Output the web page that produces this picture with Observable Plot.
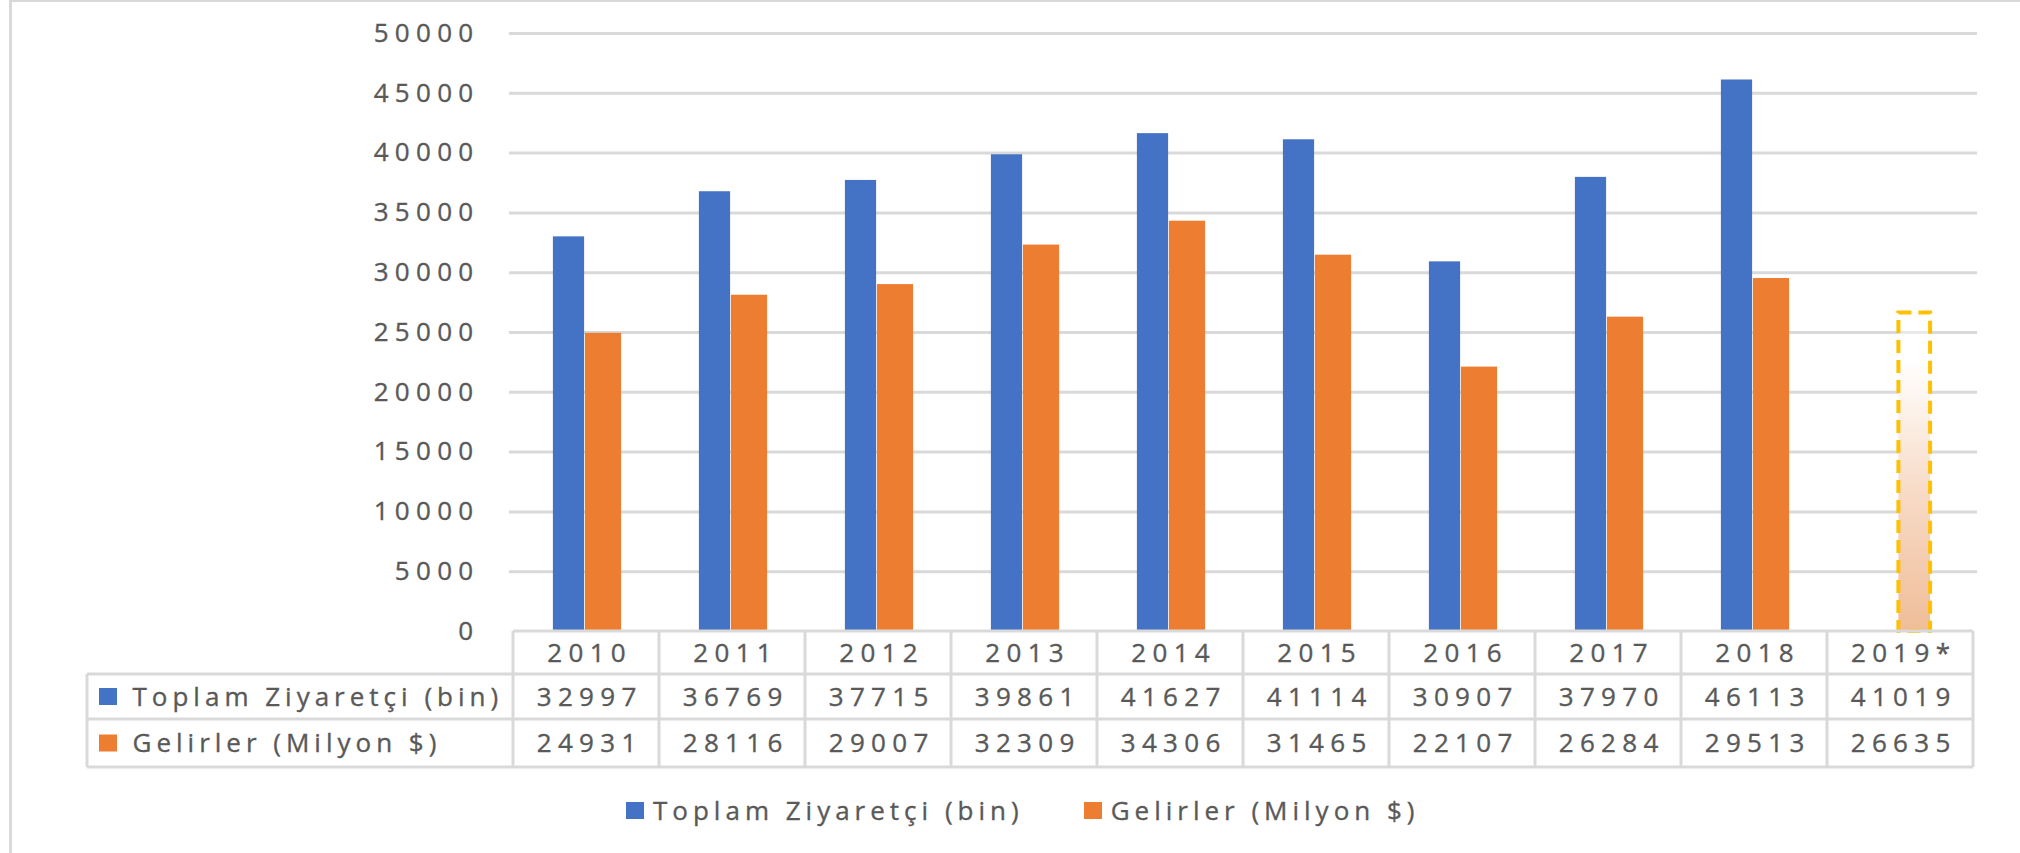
<!DOCTYPE html>
<html><head><meta charset="utf-8">
<script src="https://cdn.jsdelivr.net/npm/d3@7"></script>
<script src="https://cdn.jsdelivr.net/npm/@observablehq/plot@0.6"></script>
<style>
body{margin:0;background:#fff;}
#wrap{position:relative;width:2020px;height:853px;overflow:hidden;background:#fff;font-family:"Open Sans",Lato,sans-serif;color:#595959;}
#frame{position:absolute;left:9px;top:0;width:2030px;height:870px;border-left:3px solid #D9D9D9;border-top:2px solid #D9D9D9;pointer-events:none;}
#chart{position:absolute;left:0;top:0;}
#legend{position:absolute;left:626px;top:790px;height:40px;display:flex;align-items:center;font-size:26px;letter-spacing:5px;white-space:nowrap;-webkit-text-stroke:0.35px #595959;}
#legend .key{width:18px;height:17px;display:inline-block;margin-right:9px;}
#legend .item{display:flex;align-items:center;margin-right:60px;}
</style>
</head><body>
<div id="wrap"><div id="chart"></div><div id="legend"></div><div id="frame"></div></div>
<script>
const years = ["2010","2011","2012","2013","2014","2015","2016","2017","2018","2019*"];
const visitors = [32997,36769,37715,39861,41627,41114,30907,37970,46113,41019];
const revenues = [24931,28116,29007,32309,34306,31465,22107,26284,29513,26635];
const seriesNames = ["Toplam Ziyaretçi (bin)","Gelirler (Milyon $)"];
const seriesColors = ["#4472C4","#ED7D31"];
const yTicks = [0,5000,10000,15000,20000,25000,30000,35000,40000,45000,50000];
const projectedYear = "2019*";

const rows = years.map((year,i)=>({year, visitors:visitors[i], revenues:revenues[i]}));
const actual = rows.filter(d=>d.year!==projectedYear);
const projected = rows.filter(d=>d.year===projectedYear);

const W = 2020, H = 780, mL = 509, mR = 43, mT = 33, mB = 149;
const bw = (W - mL - mR) / years.length;
const half = bw/2;
const txt = "#595959";
const fs = 26, lsNum = 6.3, lsTxt = 5;

const chart = Plot.plot({
  width: W, height: H,
  marginLeft: mL, marginRight: mR, marginTop: mT, marginBottom: mB,
  style: {fontFamily: "'Open Sans', Lato, sans-serif", fontSize: fs + "px", color: txt, background: "transparent", overflow: "visible"},
  x: {domain: years, padding: 0, axis: null},
  y: {domain: [0, 50000], axis: null},
  marks: [
    Plot.ruleY(yTicks.filter(d=>d>0), {y: d=>d, stroke: "#D9D9D9", strokeWidth: 3, strokeOpacity: 1}),
    Plot.axisY({ticks: yTicks, tickSize: 0, tickPadding: 30, tickFormat: d3.format("d"), fill: txt, fontSize: fs, label: null}),
    Plot.barY(actual, {x: "year", y: "visitors", fill: seriesColors[0], insetLeft: half - 33.5, insetRight: half + 1.5}),
    Plot.barY(actual, {x: "year", y: "revenues", fill: seriesColors[1], insetLeft: half - 1.5, insetRight: half - 35.5}),
    Plot.barY(projected, {x: "year", y: "revenues", fill: "url(#grad2019)", stroke: "#FFC000", strokeWidth: 4, strokeDasharray: "13,7", insetLeft: half - 2, insetRight: half - 30.5}),
    Plot.text(years, {x: d=>d, y: 0, dy: 22, dx: lsNum/2, text: d=>d, fill: txt, fontSize: fs, textAnchor: "middle", lineAnchor: "middle"}),
    Plot.text(years, {x: d=>d, y: 0, dy: 66, dx: lsNum/2, text: (d,i)=>String(visitors[i]), fill: txt, fontSize: fs, textAnchor: "middle", lineAnchor: "middle"}),
    Plot.text(years, {x: d=>d, y: 0, dy: 112, dx: lsNum/2, text: (d,i)=>String(revenues[i]), fill: txt, fontSize: fs, textAnchor: "middle", lineAnchor: "middle"}),
    Plot.text([seriesNames[0]], {frameAnchor: "bottom-left", dx: -377, dy: 66, text: d=>d, fill: txt, fontSize: fs, textAnchor: "start", lineAnchor: "middle"}),
    Plot.text([seriesNames[1]], {frameAnchor: "bottom-left", dx: -377, dy: 112, text: d=>d, fill: txt, fontSize: fs, textAnchor: "start", lineAnchor: "middle"})
  ]
});
chart.style.letterSpacing = lsNum + "px";
const svg = d3.select(chart);
svg.selectAll("text").style("stroke", txt).style("stroke-width", "0.35px");
svg.selectAll("text").filter(function(){return /[A-Za-z]/.test(this.textContent);}).style("letter-spacing", lsTxt + "px");
document.getElementById("chart").appendChild(chart);

// gradient for projected bar
const defs = svg.insert("defs", ":first-child");
const grad = defs.append("linearGradient").attr("id","grad2019").attr("x1",0).attr("y1",0).attr("x2",0).attr("y2",1);
grad.append("stop").attr("offset","0%").attr("stop-color","#ffffff").attr("stop-opacity",0);
grad.append("stop").attr("offset","15%").attr("stop-color","#ffffff").attr("stop-opacity",1);
grad.append("stop").attr("offset","55%").attr("stop-color","#F8DCC9");
grad.append("stop").attr("offset","100%").attr("stop-color","#EFBD98");

// data table grid drawn from the chart's own scales
const xs = chart.scale("x"), ys = chart.scale("y");
const y0 = ys.apply(0);
const rowB = [y0, y0+43, y0+88, y0+136];
const edges = years.map(y=>xs.apply(y));
edges.push(edges[edges.length-1] + xs.bandwidth);
const tableLeft = 87;
const g = svg.append("g").attr("stroke","#D9D9D9").attr("stroke-width",3).attr("fill","none");
g.append("line").attr("x1",edges[0]).attr("x2",edges[edges.length-1]).attr("y1",rowB[0]).attr("y2",rowB[0]);
for (let k=1;k<rowB.length;k++) g.append("line").attr("x1",tableLeft).attr("x2",edges[edges.length-1]).attr("y1",rowB[k]).attr("y2",rowB[k]);
edges.forEach(e=>g.append("line").attr("x1",e).attr("x2",e).attr("y1",rowB[0]).attr("y2",rowB[3]));
g.append("line").attr("x1",tableLeft).attr("x2",tableLeft).attr("y1",rowB[1]).attr("y2",rowB[3]);
// keys in table
[0,1].forEach(k=>{
  svg.append("rect").attr("x",99).attr("y",(rowB[k+1]+rowB[k+2])/2-8.5).attr("width",18).attr("height",17).attr("fill",seriesColors[k]);
});

// legend
const lg = document.getElementById("legend");
seriesNames.forEach((n,k)=>{
  const it = document.createElement("div"); it.className="item";
  const key = document.createElement("span"); key.className="key"; key.style.background=seriesColors[k];
  const t = document.createElement("span"); t.textContent=n;
  it.appendChild(key); it.appendChild(t); lg.appendChild(it);
});
</script>
</body></html>
